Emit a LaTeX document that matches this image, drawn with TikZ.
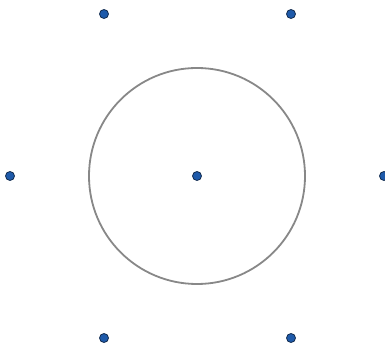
\documentclass[tikz,border=0pt]{standalone}
\begin{document}
\begin{tikzpicture}[x=1pt,y=-1pt,
  dotnode/.style={circle,fill={rgb,255:red,30;green,90;blue,170},draw={rgb,255:red,20;green,45;blue,80},line width=0.8pt,inner sep=0pt,minimum size=9pt},
  ring/.style={draw={rgb,255:red,136;green,136;blue,136},line width=1.8pt}]
\useasboundingbox (0,0) rectangle (385,344);
\draw[ring] (197,176) circle (108);
\node[dotnode] (c) at (197,176) {};
\node[dotnode] (p1) at (104,14) {};
\node[dotnode] (p2) at (291,14) {};
\node[dotnode] (p3) at (10,176) {};
\node[dotnode] (p4) at (384,176) {};
\node[dotnode] (p5) at (104,338) {};
\node[dotnode] (p6) at (291,338) {};
\end{tikzpicture}
\end{document}
